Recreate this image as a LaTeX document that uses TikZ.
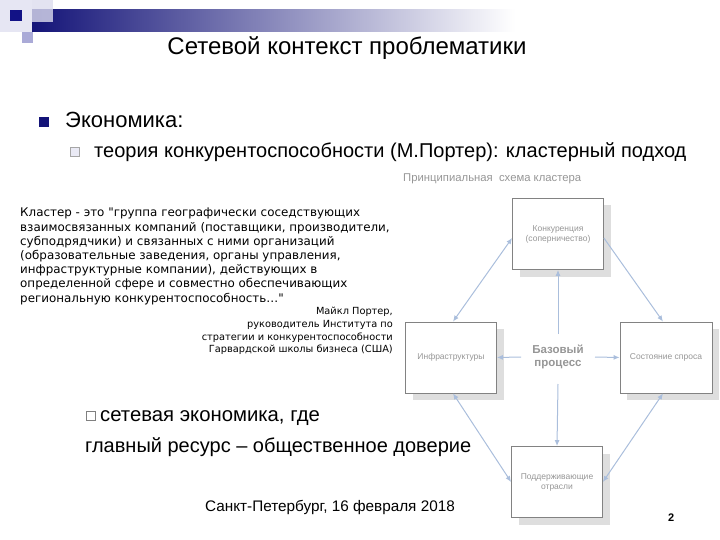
\documentclass[tikz,border=0pt]{standalone}
\usepackage{fontspec}
\setmainfont{Liberation Sans}
\newfontfamily\verd{DejaVu Sans}
\usetikzlibrary{arrows.meta,shadows}
\definecolor{dblue}{RGB}{20,20,120}
\definecolor{lilac}{RGB}{170,170,215}
\definecolor{pale}{RGB}{220,220,238}
\definecolor{arr}{RGB}{170,190,220}
\definecolor{boxline}{RGB}{130,130,130}
\definecolor{dgtext}{RGB}{150,150,150}
\tikzset{
  cbox/.style={draw=boxline, fill=white, line width=0.8pt, minimum width=91pt, minimum height=71pt,
    align=center, font=\fontsize{8.5}{10}\selectfont, text=dgtext, inner sep=2pt,
    drop shadow={shadow xshift=7pt, shadow yshift=-7pt, fill=black!13, opacity=1}},
  link/.style={draw=arr, line width=1pt, -{Latex[length=6pt,width=5pt]}},
  dlink/.style={draw=arr, line width=1pt, {Latex[length=6pt,width=5pt]}-{Latex[length=6pt,width=5pt]}},
  txt/.style={inner sep=0pt, anchor=base west},
  hollow/.style={draw=gray!70, line width=0.6pt},
}
\begin{document}
\begin{tikzpicture}[x=1pt,y=-1pt]
\useasboundingbox (0,0) rectangle (720,540);
% header decoration
\shade[left color=dblue, right color=white] (32,10) rectangle (515,32);
\fill[pale, opacity=0.7] (0,0) rectangle (32,32);
\fill[pale, opacity=0.8] (32,0) rectangle (53,22);
\fill[dblue!90!blue] (10,10) rectangle (22,21);
\fill[lilac] (22,32) rectangle (33,43);
% title
\node[inner sep=0pt, anchor=base] (title) at (347,55) {\fontsize{24}{26}\selectfont Сетевой контекст проблематики};
% bullets
\fill[dblue] (39,117) rectangle (49,127);
\node[txt] (eco) at (65,128) {\fontsize{22}{25}\selectfont Экономика:};
\fill[pale!60, hollow] (70,147) rectangle (79,156);
\node[txt] (teor) at (94,158) {\fontsize{20}{23}\selectfont теория конкурентоспособности (М.Портер): кластерный подход};
% diagram heading
\node[txt, text=dgtext] (dh) at (403,182) {\fontsize{11.3}{13}\selectfont Принципиальная\ \ схема кластера};
% left quote block
\node[inner sep=0pt, anchor=north west, align=left, font=\verd\fontsize{11.9}{14.2}\selectfont] (quote) at (20,208)
 {Кластер - это "группа географически соседствующих\\
 взаимосвязанных компаний (поставщики, производители,\\
 субподрядчики) и связанных с ними организаций\\
 (образовательные заведения, органы управления,\\
 инфраструктурные компании), действующих в\\
 определенной сфере и совместно обеспечивающих\\
 региональную конкурентоспособность…"};
\node[inner sep=0pt, anchor=north east, align=right, font=\verd\fontsize{9.8}{12.7}\selectfont] (author) at (393,307)
 {Майкл Портер,\\
 руководитель Института по\\
 стратегии и конкурентоспособности\\
 Гарвардской школы бизнеса (США)};
% cluster diagram
\node[cbox] (top) at (558,234) {Конкуренция\\(соперничество)};
\node[cbox] (left) at (451,357.5) {Инфраструктуры};
\node[cbox, minimum width=92pt] (right) at (666,357.5) {Состояние спроса};
\node[cbox] (bot) at (557,482) {Поддерживающие\\отрасли};
\node[align=center, font=\bfseries\fontsize{11.5}{13}\selectfont, text=dgtext, inner sep=2pt] (core) at (558,357) {Базовый\\процесс};
\coordinate (cu) at (558,334);
\coordinate (cd) at (558,384);
\coordinate (cl) at (521,357);
\coordinate (cr) at (595,357);
\draw[link] (cu) -- (top.south);
\draw[link] (cd) -- (bot.north);
\draw[link] (cl) -- (left.east);
\draw[link] (cr) -- (right.west);
\draw[dlink] ([yshift=-4pt]top.west) -- ([xshift=2pt]left.north);
\draw[link] ([yshift=-4pt]top.east) -- ([xshift=-3pt]right.north);
\draw[dlink] ([xshift=2pt]left.south) -- (bot.west);
\draw[dlink] ([xshift=-3pt]right.south) -- (bot.east);
% lower text
\draw[hollow, draw=gray] (86,411) rectangle (95,420);
\node[txt] (net1) at (100,421) {\fontsize{20.3}{23}\selectfont сетевая экономика, где};
\node[txt] (net2) at (85,452) {\fontsize{20}{23}\selectfont главный ресурс – общественное доверие};
\node[txt] (date) at (205,511) {\fontsize{15.3}{17}\selectfont Санкт-Петербург, 16 февраля 2018};
\node[txt, font=\bfseries\fontsize{11}{13}\selectfont] (pg) at (668,521) {2};
\end{tikzpicture}
\end{document}
